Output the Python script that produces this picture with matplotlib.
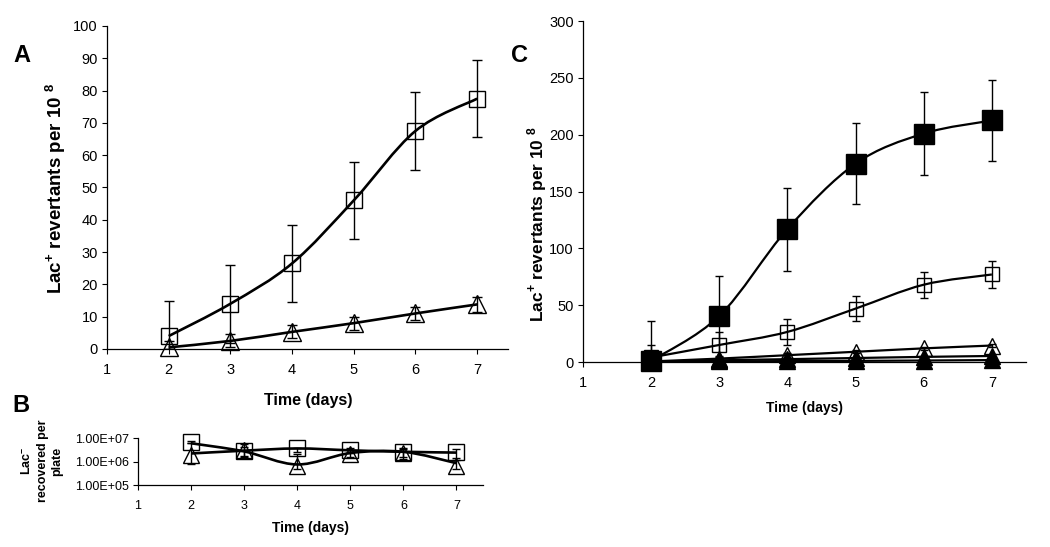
import numpy as np
import matplotlib
matplotlib.use("Agg")
import matplotlib.pyplot as plt
from matplotlib.path import Path
from matplotlib.patches import PathPatch
from matplotlib.ticker import FixedLocator, FixedFormatter, NullLocator

plt.rcParams['font.family'] = ['Liberation Sans', 'DejaVu Sans']
plt.rcParams['mathtext.fontset'] = 'custom'
plt.rcParams['mathtext.rm'] = 'Liberation Sans'
plt.rcParams['mathtext.bf'] = 'Liberation Sans:bold'

days = [2, 3, 4, 5, 6, 7]

# panel A
a_sq = [4, 14, 26.5, 46, 67.5, 77.5]
a_sq_err = [11, 12, 12, 12, 12, 12]
a_tri = [0.5, 2.5, 5.3, 8, 11, 13.8]
a_tri_err = [2, 2, 2, 2, 2, 2.3]

# panel B (markers and the two drawn lines, log scale)
b_sq = [6.7e6, 2.8e6, 3.9e6, 3.0e6, 2.6e6, 2.45e6]
b_tri = [1.9e6, 3.0e6, 6.7e5, 2.0e6, 2.3e6, 6.7e5]
b_line1 = [6.0e6, 2.7e6, 7.5e5, 2.3e6, 2.6e6, 8.5e5]
b_line2 = [2.2e6, 2.9e6, 3.6e6, 3.0e6, 2.6e6, 2.4e6]
b_sq_lo = [6.0e6, 1.8e6, 2.6e6, 2.2e6, 1.6e6, 1.4e6]
b_sq_hi = [7.5e6, 4.0e6, 3.4e6, 3.6e6, 3.4e6, 3.4e6]
b_tri_lo = [7.5e5, 1.6e6, 5.0e5, 1.5e6, 1.3e6, 5.0e5]
b_tri_hi = [6.0e6, 5.5e6, 2.0e6, 3.0e6, 3.8e6, 1.2e6]
b_yticks = [1e5, 1e6, 1e7]
b_ylabels = ['1.00E+05', '1.00E+06', '1.00E+07']

# panel C
c_fsq = [1, 40.5, 117, 174.5, 201, 212.5]
c_fsq_err = [35, 35.5, 36.5, 35.5, 36.5, 36]
c_osq = [4, 15, 26.5, 47, 68, 77]
c_osq_err = [11, 11.5, 11.5, 11, 11.5, 12]
c_otri = [0.5, 3, 6, 9, 12, 14.5]
c_otri_err = [1.5, 1.5, 1.5, 1.5, 1.5, 1.5]
c_ftri = [0.3, 1.5, 2.5, 3.5, 4.5, 5.3]
c_ftri2 = [0.2, 0.5, 0.8, 1.0, 1.3, 1.7]


def smooth(xs, ys, log=False):
    ys = np.log10(ys) if log else np.asarray(ys, float)
    pts = np.column_stack([np.asarray(xs, float), ys])
    n = len(pts)
    verts = [pts[0]]
    codes = [Path.MOVETO]
    for i in range(n - 1):
        p0 = pts[i - 1] if i > 0 else pts[i]
        p1, p2 = pts[i], pts[i + 1]
        p3 = pts[i + 2] if i + 2 < n else pts[i + 1]
        verts += [p1 + (p2 - p0) / 6, p2 - (p3 - p1) / 6, p2]
        codes += [Path.CURVE4] * 3
    verts = np.array(verts)
    if log:
        verts[:, 1] = 10 ** verts[:, 1]
    return Path(verts, codes)


def curve(ax, xs, ys, lw, log=False):
    ax.add_patch(PathPatch(smooth(xs, ys, log), fill=False, edgecolor='black',
                           lw=lw, zorder=2, clip_on=False))


def errs(ax, xs, ys, err, cap=3.6):
    ys = np.asarray(ys, float)
    err = np.asarray(err, float)
    lo = np.minimum(err, ys)
    ax.errorbar(xs, ys, yerr=[lo, err], fmt='none', ecolor='black',
                elinewidth=1, capsize=cap, capthick=1, zorder=4)


def marks(ax, xs, ys, m, ms, filled=False):
    ax.plot(xs, ys, ls='none', marker=m, ms=ms, mec='black', mew=1,
            mfc='black' if filled else 'none', zorder=3, clip_on=False)


def style(ax, fs, xpad):
    for s in ['top', 'right']:
        ax.spines[s].set_visible(False)
    for s in ['left', 'bottom']:
        ax.spines[s].set_linewidth(0.9)
    ax.tick_params(direction='out', length=3.6, width=0.8, labelsize=fs, pad=3)
    ax.tick_params(axis='x', pad=xpad)
    ax.set_xlim(1, 7.5)
    ax.set_xticks([1, 2, 3, 4, 5, 6, 7])


fig = plt.figure(figsize=(10.5, 5.47), dpi=100)

# ---- A
axA = fig.add_axes([0.1019, 0.362, 0.3819, 0.5905])
style(axA, 10.5, 6.5)
axA.set_ylim(0, 100)
axA.set_yticks(range(0, 101, 10))
curve(axA, days, a_sq, 1.9)
curve(axA, days, a_tri, 1.9)
marks(axA, days, a_sq, 's', 12)
marks(axA, days, a_tri, '^', 12.5)
errs(axA, days, a_sq, a_sq_err)
errs(axA, days, a_tri, a_tri_err)

# ---- B
axB = fig.add_axes([0.1314, 0.1133, 0.3286, 0.0859])
style(axB, 9, 7.5)
axB.set_yscale('log')
axB.set_ylim(1e5, 1e7)
axB.yaxis.set_major_locator(FixedLocator(b_yticks))
axB.yaxis.set_major_formatter(FixedFormatter(b_ylabels))
axB.yaxis.set_minor_locator(NullLocator())
curve(axB, days, b_line1, 1.9, log=True)
curve(axB, days, b_line2, 1.9, log=True)
marks(axB, days, b_sq, 's', 11)
marks(axB, days, b_tri, '^', 11.5)
b_sq_arr = np.array(b_sq)
b_tri_arr = np.array(b_tri)
axB.errorbar(days, b_sq, yerr=[np.maximum(b_sq_arr - b_sq_lo, 0), np.maximum(np.array(b_sq_hi) - b_sq_arr, 0)],
             fmt='none', ecolor='black', elinewidth=1, capsize=3, zorder=4)
axB.errorbar(days, b_tri, yerr=[np.maximum(b_tri_arr - b_tri_lo, 0), np.maximum(np.array(b_tri_hi) - b_tri_arr, 0)],
             fmt='none', ecolor='black', elinewidth=1, capsize=3, zorder=4)

# ---- C
axC = fig.add_axes([0.5552, 0.3382, 0.4219, 0.6234])
style(axC, 10.5, 6.5)
axC.set_ylim(0, 300)
axC.set_yticks(range(0, 301, 50))
for ys in [c_fsq, c_osq, c_otri, c_ftri, c_ftri2]:
    curve(axC, days, ys, 1.6)
marks(axC, days, c_osq, 's', 10.5)
marks(axC, days, c_otri, '^', 11.5)
marks(axC, days, c_ftri2, '^', 11.5, filled=True)
marks(axC, days, c_ftri, '^', 11.5, filled=True)
marks(axC, days, c_fsq, 's', 14.5, filled=True)
errs(axC, days, c_fsq, c_fsq_err, cap=3.2)
errs(axC, days, c_osq, c_osq_err, cap=3.2)
errs(axC, days, c_otri, c_otri_err, cap=3.2)

# ---- labels
W, H = 1050, 547
def ftxt(x, y, s, **kw):
    fig.text(x / W, 1 - y / H, s, ha='center', va='center', **kw)

ftxt(22, 55, 'A', fontsize=17, weight='bold')
ftxt(21, 406, 'B', fontsize=17, weight='bold')
ftxt(519, 55, 'C', fontsize=17, weight='bold')

ftxt(56, 188, r'Lac$^{\mathbf{+}}$ revertants per 10 $^{\mathbf{8}}$', fontsize=13.5,
     weight='bold', rotation=90)
ftxt(308, 400, 'Time (days)', fontsize=11.5, weight='bold')

ftxt(42, 461, 'Lac$^{\\mathbf{-}}$\nrecovered per\nplate', fontsize=9,
     weight='bold', rotation=90, linespacing=1.3, multialignment='center')
ftxt(311, 528, 'Time (days)', fontsize=10, weight='bold')

ftxt(537, 224, r'Lac$^{\mathbf{+}}$ revertants per 10 $^{\mathbf{8}}$', fontsize=12.5,
     weight='bold', rotation=90)
ftxt(805, 408, 'Time (days)', fontsize=10, weight='bold')

fig.savefig('out.png', dpi=100)
